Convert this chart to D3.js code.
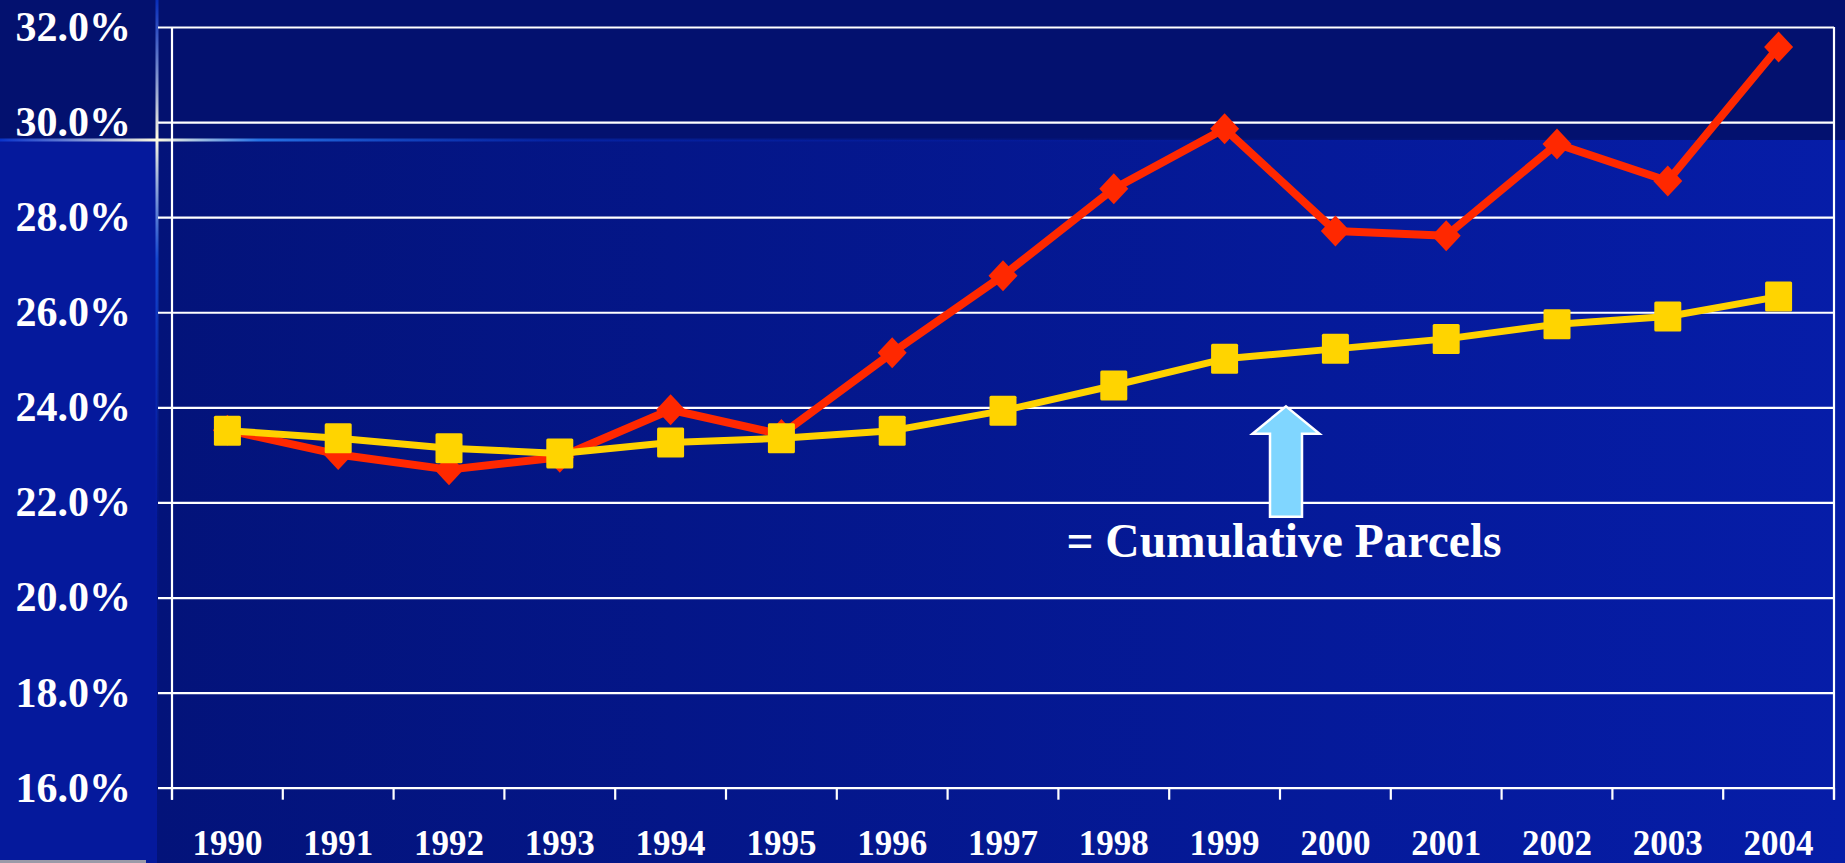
<!DOCTYPE html>
<html>
<head>
<meta charset="utf-8">
<script src="https://cdn.jsdelivr.net/npm/d3@7"></script>
<style>
  html, body { margin: 0; padding: 0; background: #03116f; }
  svg { display: block; }
  text { font-family: "Liberation Serif", "Times New Roman", serif; font-weight: bold; fill: #ffffff; }
</style>
</head>
<body>
<svg id="chart" width="1845" height="863"></svg>
<script>
// ---- data ----
const years = ["1990","1991","1992","1993","1994","1995","1996","1997","1998","1999","2000","2001","2002","2003","2004"];
const seriesRed = [23.52, 23.01, 22.69, 22.95, 23.95, 23.43, 25.15, 26.77, 28.6, 29.86, 27.71, 27.61, 29.54, 28.76, 31.58];
const seriesCumulative = [23.51, 23.35, 23.14, 23.03, 23.26, 23.35, 23.51, 23.93, 24.46, 25.02, 25.23, 25.44, 25.75, 25.91, 26.33];
const yTicks = [16, 18, 20, 22, 24, 26, 28, 30, 32];
const annotationText = "= Cumulative Parcels";
const annotationYear = "2000";
const annotationValue = 24;

// ---- layout ----
const W = 1845, H = 863;
const plot = { left: 172, right: 1834, top: 27, bottom: 787.7 };
const svg = d3.select("#chart");

const x = d3.scaleBand().domain(years).range([plot.left, plot.right]).padding(0);
const y = d3.scaleLinear().domain([16, 32]).range([plot.bottom, plot.top]);
const cx = d => x(d) + x.bandwidth() / 2;

// ---- background ----
const defs = svg.append("defs");
const g1 = defs.append("linearGradient").attr("id", "lowerGrad").attr("x1", 0).attr("x2", 1).attr("y1", 0).attr("y2", 0);
g1.append("stop").attr("offset", "0%").attr("stop-color", "#03137a");
g1.append("stop").attr("offset", "100%").attr("stop-color", "#061da8");
const g2 = defs.append("linearGradient").attr("id", "hGlow").attr("x1", 0).attr("x2", 1).attr("y1", 0).attr("y2", 0);
g2.append("stop").attr("offset", "0%").attr("stop-color", "#0a3ad8").attr("stop-opacity", 0.8);
g2.append("stop").attr("offset", "8.5%").attr("stop-color", "#fffbe0").attr("stop-opacity", 1);
g2.append("stop").attr("offset", "14%").attr("stop-color", "#2a7cf0").attr("stop-opacity", 0.9);
g2.append("stop").attr("offset", "30%").attr("stop-color", "#0830c0").attr("stop-opacity", 0.5);
g2.append("stop").attr("offset", "60%").attr("stop-color", "#0620a8").attr("stop-opacity", 0.2);
g2.append("stop").attr("offset", "100%").attr("stop-color", "#0620a8").attr("stop-opacity", 0);
const g3 = defs.append("linearGradient").attr("id", "vGlow").attr("x1", 0).attr("x2", 0).attr("y1", 0).attr("y2", 1);
g3.append("stop").attr("offset", "0%").attr("stop-color", "#0a3ad8").attr("stop-opacity", 0.7);
g3.append("stop").attr("offset", "16%").attr("stop-color", "#fffbe0").attr("stop-opacity", 1);
g3.append("stop").attr("offset", "30%").attr("stop-color", "#1a5ae8").attr("stop-opacity", 0.7);
g3.append("stop").attr("offset", "60%").attr("stop-color", "#0620a8").attr("stop-opacity", 0.2);
g3.append("stop").attr("offset", "100%").attr("stop-color", "#0620a8").attr("stop-opacity", 0);

svg.append("rect").attr("x", 0).attr("y", 0).attr("width", W).attr("height", H).attr("fill", "#03116f");
svg.append("rect").attr("x", 157).attr("y", 140).attr("width", W - 157).attr("height", H - 140).attr("fill", "url(#lowerGrad)");
svg.append("rect").attr("x", 0).attr("y", 140).attr("width", 157).attr("height", H - 140).attr("fill", "#05199c");
svg.append("rect").attr("x", 0).attr("y", 138.5).attr("width", W).attr("height", 3).attr("fill", "url(#hGlow)");
svg.append("rect").attr("x", 155.5).attr("y", 0).attr("width", 3).attr("height", H).attr("fill", "url(#vGlow)");
svg.append("rect").attr("x", 0).attr("y", 860).attr("width", 146).attr("height", 3).attr("fill", "#9a9aa8");

// ---- grid (horizontal lines with left tick stubs) ----
const gridAxis = d3.axisLeft(y).tickValues(yTicks).tickSize(-(plot.right - 158)).tickFormat("");
const gGrid = svg.append("g").attr("transform", "translate(158,0)").call(gridAxis);
gGrid.select(".domain").remove();
gGrid.selectAll(".tick line").attr("stroke", "#ffffff").attr("stroke-width", 2.2);

// y labels
const labelAxis = d3.axisLeft(y).tickValues(yTicks).tickSize(0).tickPadding(27).tickFormat(d => d.toFixed(1) + "%");
const gYL = svg.append("g").attr("transform", "translate(158,0)").call(labelAxis);
gYL.select(".domain").remove();
gYL.selectAll(".tick text").attr("font-size", 42).attr("fill", "#ffffff")
  .attr("font-family", "'Liberation Serif', 'Times New Roman', serif").attr("font-weight", "bold").attr("dy", "0.32em");

// plot frame: left axis line + right border
svg.append("line").attr("x1", plot.left).attr("x2", plot.left).attr("y1", plot.top).attr("y2", plot.bottom + 12)
  .attr("stroke", "#ffffff").attr("stroke-width", 2.2);
svg.append("line").attr("x1", plot.right).attr("x2", plot.right).attr("y1", plot.top).attr("y2", plot.bottom + 12)
  .attr("stroke", "#ffffff").attr("stroke-width", 2.2);

// x boundary ticks
const boundaries = years.map(d => x(d)).concat([plot.right]);
svg.append("g").selectAll("line").data(boundaries).join("line")
  .attr("x1", d => d).attr("x2", d => d).attr("y1", plot.bottom).attr("y2", plot.bottom + 12)
  .attr("stroke", "#ffffff").attr("stroke-width", 2.2);

// x labels
const xAxis = d3.axisBottom(x).tickSize(0).tickPadding(42);
const gX = svg.append("g").attr("transform", `translate(0,${plot.bottom})`).call(xAxis);
gX.select(".domain").remove();
gX.selectAll(".tick text").attr("font-size", 35).attr("fill", "#ffffff")
  .attr("font-family", "'Liberation Serif', 'Times New Roman', serif").attr("font-weight", "bold");

// ---- series ----
const line = d3.line().x((d, i) => cx(years[i])).y(d => y(d));

svg.append("path").datum(seriesRed).attr("d", line).attr("fill", "none")
  .attr("stroke", "#ff2800").attr("stroke-width", 8).attr("stroke-linejoin", "round");
const dw = 14.5, dh = 15.5;
svg.append("g").selectAll("path").data(seriesRed).join("path")
  .attr("d", (d, i) => {
    const px = cx(years[i]), py = y(d);
    return `M${px},${py - dh}L${px + dw},${py}L${px},${py + dh}L${px - dw},${py}Z`;
  })
  .attr("fill", "#ff2800");

svg.append("path").datum(seriesCumulative).attr("d", line).attr("fill", "none")
  .attr("stroke", "#ffd200").attr("stroke-width", 7).attr("stroke-linejoin", "round");
const sw = 27, sh = 30;
svg.append("g").selectAll("rect").data(seriesCumulative).join("rect")
  .attr("x", (d, i) => cx(years[i]) - sw / 2).attr("y", d => y(d) - sh / 2)
  .attr("width", sw).attr("height", sh).attr("rx", 1.5)
  .attr("fill", "#ffd400");

// ---- annotation arrow ----
const ax = x(annotationYear) + 6;
const tipY = y(annotationValue) - 1;
const arrow = [
  [ax, tipY], [ax + 33.5, tipY + 27.5], [ax + 16, tipY + 27.5], [ax + 16, tipY + 110.5],
  [ax - 16, tipY + 110.5], [ax - 16, tipY + 27.5], [ax - 33.5, tipY + 27.5]
];
svg.append("path").attr("d", d3.line()(arrow) + "Z")
  .attr("fill", "#80d6ff").attr("stroke", "#ffffff").attr("stroke-width", 2.5).attr("stroke-linejoin", "miter");

svg.append("text").attr("x", ax - 2).attr("y", 557).attr("text-anchor", "middle")
  .attr("font-size", 47.5).text(annotationText);
</script>
</body>
</html>
